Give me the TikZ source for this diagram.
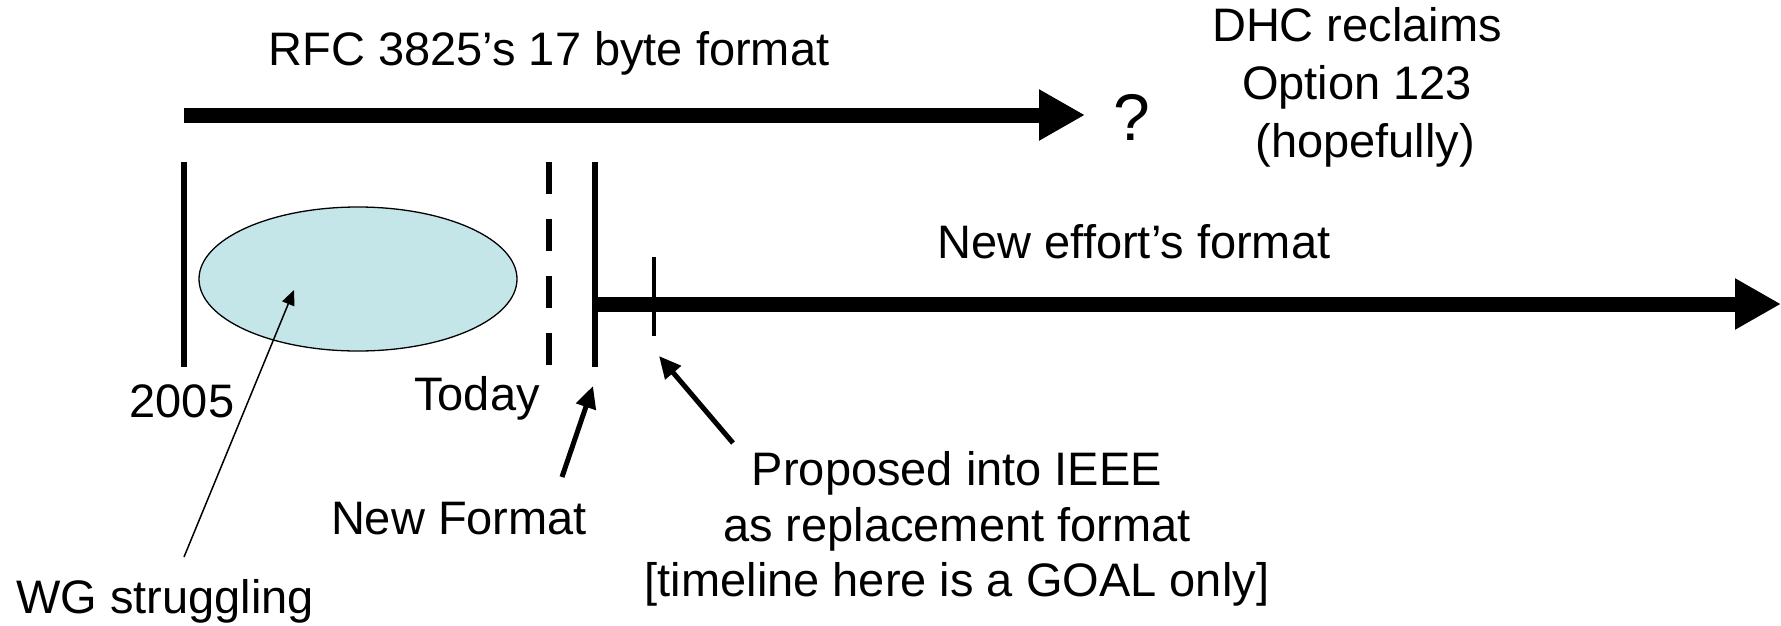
\documentclass[tikz,border=0pt]{standalone}
\usepackage{fontspec}
\setmainfont{Liberation Sans}
\usetikzlibrary{arrows.meta,shapes.geometric}
\definecolor{ellfill}{RGB}{197,230,233}
\begin{document}
\begin{tikzpicture}[x=1pt,y=-1pt,
  lbl/.style={font=\fontsize{47}{57}\selectfont, inner sep=0pt, align=center},
  bigarrow/.style={line width=15pt, -{Triangle[length=46pt,width=48pt]}},
  tickline/.style={line width=6pt},
  callout/.style={line width=5pt, -{Triangle[length=22pt,width=20pt]}},
  thincallout/.style={line width=1.5pt, -{Triangle[length=15pt,width=13pt]}},
]
\useasboundingbox (0,0) rectangle (1781,625);

% labels
\node[lbl] (rfc) at (549,53) {RFC 3825’s 17 byte format};
\node[lbl, font=\fontsize{66}{70}\selectfont] (q) at (1132,117) {?};
\node[lbl, font=\fontsize{47}{58}\selectfont] (dhc) at (1357,87) {DHC reclaims\\Option 123\\\hspace*{0.35em}(hopefully)};
\node[lbl] (neweff) at (1134,242) {New effort’s format};
\node[lbl] (y2005) at (182,401) {2005};
\node[lbl] (today) at (477,398) {Today};
\node[lbl] (newfmt) at (459,519) {New Format};
\node[lbl] (wg) at (165,601) {WG struggling};
\node[lbl, font=\fontsize{47}{55.5}\selectfont] (prop) at (957,529) {Proposed into IEEE\\as replacement format\\{[}timeline here is a GOAL only{]}};

% ellipse
\node[draw, ellipse, fill=ellfill, minimum width=318pt, minimum height=144pt, line width=1.3pt, inner sep=0pt] (ell) at (358,279) {};

% top arrow
\coordinate (a1s) at (184,115);
\coordinate (a1e) at (1085,115);
\draw[bigarrow] (a1s) -- (a1e);

% ticks
\coordinate (t1a) at (184,162); \coordinate (t1b) at (184,367);
\draw[tickline] (t1a) -- (t1b);
\coordinate (t2a) at (549,162); \coordinate (t2b) at (549,367);
\draw[tickline, dash pattern=on 32pt off 25pt] (t2a) -- (t2b);
\coordinate (t3a) at (595,162); \coordinate (t3b) at (595,367);
\draw[tickline] (t3a) -- (t3b);

% bottom arrow
\coordinate (a2s) at (595,304);
\coordinate (a2e) at (1781,304);
\draw[bigarrow] (a2s) -- (a2e);

% small tick
\coordinate (t4a) at (654,257); \coordinate (t4b) at (654,336);
\draw[line width=4.5pt] (t4a) -- (t4b);

% callouts
\coordinate (wgs) at (184,557);
\coordinate (wgt) at (294,290);
\draw[thincallout] (wgs) -- (wgt);
\coordinate (nfs) at (562,477);
\coordinate (nft) at (593,386);
\draw[callout] (nfs) -- (nft);
\coordinate (ps) at (733,443);
\coordinate (pt) at (659,356);
\draw[callout] (ps) -- (pt);
\end{tikzpicture}
\end{document}
